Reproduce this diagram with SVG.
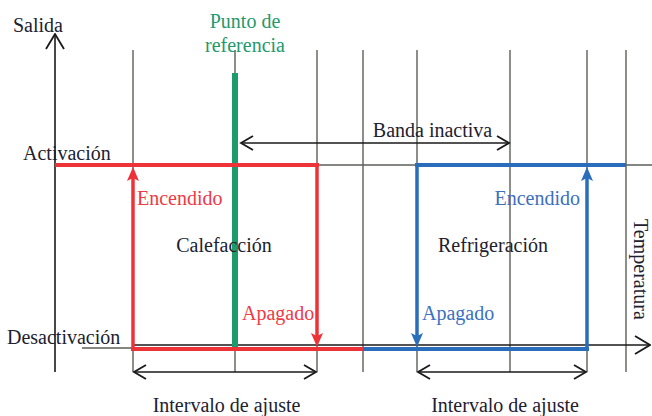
<svg xmlns="http://www.w3.org/2000/svg" width="652" height="416" viewBox="0 0 652 416">
<style>
.t{font-family:"Liberation Serif","Tinos","Times New Roman","DejaVu Serif",serif;font-size:20px;fill:#1d2130}
.tr{fill:#ee3a45}.tb{fill:#3b70c0}.tg{fill:#23996c}
.grid{stroke:#5c6058;stroke-width:1.4;fill:none}
.ax{stroke:#1a1a1a;stroke-width:1.6;fill:none}
.red{stroke:#ee3338;fill:none}
.blue{stroke:#2a6ebb;fill:none}
</style>
<defs>
<marker id="open" viewBox="-1 -1 15 16" refX="12" refY="7" markerWidth="15" markerHeight="16" markerUnits="userSpaceOnUse" orient="auto-start-reverse">
<path d="M0,0 L12,7 L0,14" fill="none" stroke="#1a1a1a" stroke-width="1.8"/>
</marker>
<marker id="openBig" viewBox="-1 -1 17 20" refX="15" refY="9" markerWidth="17" markerHeight="20" markerUnits="userSpaceOnUse" orient="auto">
<path d="M0,0 L15,9 L0,18" fill="none" stroke="#1a1a1a" stroke-width="1.8"/>
</marker>
<marker id="ar" viewBox="0 0 14 12" refX="6" refY="6" markerWidth="14" markerHeight="12" markerUnits="userSpaceOnUse" orient="auto">
<path d="M0,0 L14,6 L0,12 L3,6 Z" fill="#ee3338"/>
</marker>
<marker id="ab" viewBox="0 0 14 12" refX="6" refY="6" markerWidth="14" markerHeight="12" markerUnits="userSpaceOnUse" orient="auto">
<path d="M0,0 L14,6 L0,12 L3,6 Z" fill="#2a6ebb"/>
</marker>
</defs>
<rect width="652" height="416" fill="#ffffff"/>

<g id="grid">
<path class="grid" d="M133,50 V372 M235,50 V372 M317,50 V372 M363,50 V372 M417,50 V372 M510,50 V372 M587,50 V372 M626,50 V372"/>
<path class="grid" d="M55,165 H652 M82,348 H133"/>
</g>

<g id="axes">
<path class="ax" d="M55,372 V34" marker-end="url(#openBig)"/>
<path class="ax" d="M133,345 H650" marker-end="url(#openBig)"/>
</g>

<g id="connectors">
<path class="ax" d="M241,143 H509" marker-start="url(#open)" marker-end="url(#open)"/>
<path class="ax" d="M134,372 H316" marker-start="url(#open)" marker-end="url(#open)"/>
<path class="ax" d="M418,372 H586" marker-start="url(#open)" marker-end="url(#open)"/>
</g>

<g id="setpoint">
<path d="M235,73 V349" stroke="#1f9a6b" stroke-width="6" fill="none"/>
</g>

<g id="heating">
<path class="red" stroke-width="4" d="M55,165 H319"/>
<path class="red" stroke-width="4" d="M131,349 H363"/>
<path class="red" stroke-width="3.5" d="M317,165 V339" marker-end="url(#ar)"/>
<path class="red" stroke-width="3.5" d="M133,349 V175" marker-end="url(#ar)"/>
</g>

<g id="cooling">
<path class="blue" stroke-width="4" d="M415,165 H626"/>
<path class="blue" stroke-width="4" d="M363,349 H589"/>
<path class="blue" stroke-width="3.5" d="M417,165 V339" marker-end="url(#ab)"/>
<path class="blue" stroke-width="3.5" d="M587,349 V175" marker-end="url(#ab)"/>
</g>

<g id="labels" font-family="Liberation Serif, Times New Roman, serif">
<text class="t" x="13" y="32">Salida</text>
<text class="t tg" x="245" y="28" text-anchor="middle">Punto de</text>
<text class="t tg" x="245" y="52" text-anchor="middle">referencia</text>
<text class="t" x="23" y="160">Activación</text>
<text class="t" x="7" y="344">Desactivación</text>
<text class="t" x="432.5" y="137" text-anchor="middle">Banda inactiva</text>
<text class="t tr" x="137" y="205">Encendido</text>
<text class="t" x="224" y="252" text-anchor="middle">Calefacción</text>
<text class="t tr" x="242" y="320">Apagado</text>
<text class="t tb" x="580" y="205" text-anchor="end">Encendido</text>
<text class="t" x="493" y="252" text-anchor="middle">Refrigeración</text>
<text class="t tb" x="422" y="320">Apagado</text>
<text class="t" transform="translate(634,219) rotate(90)">Temperatura</text>
<text class="t" x="226.5" y="412" text-anchor="middle">Intervalo de ajuste</text>
<text class="t" x="505" y="412" text-anchor="middle">Intervalo de ajuste</text>
</g>
</svg>
